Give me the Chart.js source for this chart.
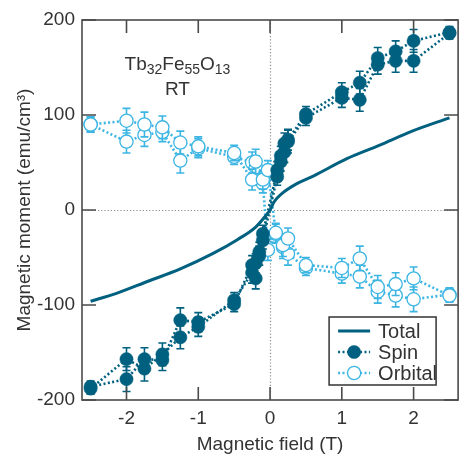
<!DOCTYPE html>
<html>
<head>
<meta charset="utf-8">
<script src="https://cdn.jsdelivr.net/npm/chart.js@4/dist/chart.umd.min.js"></script>
<style>
  html, body { margin: 0; padding: 0; background: #fff; overflow: hidden; }
  #wrap { width: 466px; height: 454px; }
</style>
</head>
<body>
<div id="wrap"><canvas id="chart" width="466" height="454"></canvas></div>
<script>
const $ = (sel) => document.querySelector(sel);

// Total magnetisation curve (emu/cm3 vs T)
const totalField  = [-2.5, -2.15, -1.7, -1.25, -0.8, -0.45, -0.2, -0.06, 0, 0.06, 0.16, 0.38, 0.61, 1.07, 1.52, 1.98, 2.5];
const totalMoment = [-96, -88, -75, -62, -46, -31, -18, -6, 0, 9, 17, 28, 36, 54, 68, 83, 97];

// Spin moment, two sweep branches
const spinField   = [-2.5, -2, -1.75, -1.5, -1.25, -1, -0.5, -0.25, -0.2, -0.15, -0.1, 0.1, 0.15, 0.2, 0.25, 0.5, 1, 1.25, 1.5, 1.75, 2, 2.5];
const spinDown    = [-186, -178, -157, -158, -116, -118, -99, -58, -72, -48, -32, 35, 51, 61, 74, 101, 124, 134, 160, 167, 178, 187];
const spinDownErr = [6, 13, 12, 11, 13, 10, 8, 10, 11, 10, 9, 9, 10, 11, 11, 8, 10, 12, 11, 11, 12, 6];
const spinUp      = [-188, -157, -167, -152, -134, -123, -95, -66, -56, -44, -25, 42, 57, 70, 72, 97, 118, 116, 153, 157, 157, 186];
const spinUpErr   = [6, 12, 13, 12, 12, 10, 8, 11, 10, 10, 9, 9, 10, 11, 12, 8, 10, 12, 10, 12, 12, 6];

// Orbital moment, two sweep branches
const orbField    = [-2.5, -2, -1.75, -1.5, -1.25, -1, -0.5, -0.25, -0.2, -0.1, -0.03, 0.08, 0.18, 0.25, 0.5, 1, 1.25, 1.5, 1.75, 2, 2.5];
const orbDown     = [90, 94, 90, 87, 71, 67, 60, 32, 51, 32, 42, -24, -37, -30, -58, -61, -51, -81, -78, -72, -90];
const orbDownErr  = [8, 13, 13, 12, 12, 10, 8, 11, 13, 10, 10, 10, 12, 11, 8, 10, 13, 12, 12, 12, 7];
const orbUp       = [90, 72, 79, 82, 52, 65, 56, 50, 45, 28, -42, -25, -39, -46, -61, -67, -70, -86, -90, -94, -89];
const orbUpErr    = [8, 12, 12, 10, 13, 10, 8, 11, 12, 10, 11, 10, 12, 12, 8, 10, 12, 12, 12, 13, 7];

const xTicks = [-2, -1, 0, 1, 2];
const yTicks = [-200, -100, 0, 100, 200];

const DARK = '#00607f';
const LIGHT = '#3cb5e3';
const AXIS = '#4a4a4a';
const FONT = '"Liberation Sans", Arial, sans-serif';

const pts = (xs, ys) => xs.map((x, i) => ({ x, y: ys[i] }));

function branch(label, xs, ys, errs, color, filled) {
    return {
        label,
        data: pts(xs, ys),
        errors: errs,
        showLine: true,
        borderColor: color,
        borderWidth: 2.6,
        borderDash: [2, 2.4],
        pointRadius: 6.6,
        pointHoverRadius: 6.6,
        pointBackgroundColor: filled ? color : '#fff',
        pointBorderColor: color,
        pointBorderWidth: filled ? 0.5 : 1.3,
        errColor: color
    };
}

// frame, inward ticks, zero lines, error bars, labels and legend
const decor = {
    id: 'decor',
    beforeDatasetsDraw(chart) {
        const { ctx, chartArea: a, scales: { x, y } } = chart;
        ctx.save();
        ctx.strokeStyle = '#8a8a8a';
        ctx.lineWidth = 1.2;
        ctx.setLineDash([1.2, 2]);
        const y0 = Math.round(y.getPixelForValue(0)) + 0.5;
        const x0 = Math.round(x.getPixelForValue(0)) + 0.5;
        ctx.beginPath();
        ctx.moveTo(a.left, y0); ctx.lineTo(a.right, y0);
        ctx.moveTo(x0, a.top); ctx.lineTo(x0, a.bottom);
        ctx.stroke();
        ctx.restore();
    },
    beforeDatasetDraw(chart, args) {
        const ds = chart.data.datasets[args.index];
        if (!ds.errors) return;
        const { ctx, scales: { x, y } } = chart;
        ctx.save();
        ctx.strokeStyle = ds.errColor;
        ctx.lineWidth = 1.6;
        ds.data.forEach((p, i) => {
            const e = ds.errors[i];
            const px = x.getPixelForValue(p.x);
            const top = y.getPixelForValue(p.y + e);
            const bot = y.getPixelForValue(p.y - e);
            ctx.beginPath();
            ctx.moveTo(px, top); ctx.lineTo(px, bot);
            ctx.moveTo(px - 4, top); ctx.lineTo(px + 4, top);
            ctx.moveTo(px - 4, bot); ctx.lineTo(px + 4, bot);
            ctx.stroke();
        });
        ctx.restore();
    },
    afterDraw(chart) {
        const { ctx, chartArea: a, scales: { x, y } } = chart;
        ctx.save();
        ctx.strokeStyle = AXIS;
        ctx.lineWidth = 1.6;
        ctx.strokeRect(a.left, a.top, a.right - a.left, a.bottom - a.top);
        ctx.beginPath();
        xTicks.forEach(v => {
            const px = x.getPixelForValue(v);
            ctx.moveTo(px, a.bottom); ctx.lineTo(px, a.bottom - 13);
            ctx.moveTo(px, a.top); ctx.lineTo(px, a.top + 13);
        });
        yTicks.forEach(v => {
            const py = y.getPixelForValue(v);
            ctx.moveTo(a.left, py); ctx.lineTo(a.left + 14, py);
            ctx.moveTo(a.right, py); ctx.lineTo(a.right - 14, py);
        });
        ctx.stroke();

        // sample name with subscripts
        ctx.fillStyle = '#333';
        ctx.textBaseline = 'alphabetic';
        const parts = [['Tb', 0], ['32', 1], ['Fe', 0], ['55', 1], ['O', 0], ['13', 1]];
        const big = '19px ' + FONT, small = '14px ' + FONT;
        let w = 0;
        parts.forEach(([t, s]) => { ctx.font = s ? small : big; w += ctx.measureText(t).width; });
        const cx = x.getPixelForValue(-1.29);
        let tx = cx - w / 2;
        const by = y.getPixelForValue(147);
        parts.forEach(([t, s]) => {
            ctx.font = s ? small : big;
            ctx.fillText(t, tx, s ? by + 4 : by);
            tx += ctx.measureText(t).width;
        });
        ctx.font = big;
        ctx.textAlign = 'center';
        ctx.fillText('RT', cx, y.getPixelForValue(121));

        // legend box
        const L = a.right - 129, R = a.right - 22, T = a.bottom - 83, B = a.bottom - 15;
        ctx.fillStyle = '#fff';
        ctx.fillRect(L, T, R - L, B - T);
        ctx.strokeStyle = '#333';
        ctx.lineWidth = 1.5;
        ctx.strokeRect(L, T, R - L, B - T);
        const rows = [
            { label: 'Total', ds: chart.data.datasets[0], line: true },
            { label: 'Spin', ds: chart.data.datasets[1] },
            { label: 'Orbital', ds: chart.data.datasets[3] }
        ];
        rows.forEach((r, i) => {
            const ry = T + 14 + i * 21;
            const x1 = L + 9, x2 = L + 41;
            ctx.save();
            ctx.strokeStyle = r.ds.borderColor;
            ctx.lineWidth = r.line ? 3 : 2.6;
            ctx.setLineDash(r.line ? [] : [2, 2.4]);
            ctx.beginPath();
            ctx.moveTo(x1, ry); ctx.lineTo(x2, ry);
            ctx.stroke();
            ctx.restore();
            if (!r.line) {
                ctx.beginPath();
                ctx.arc((x1 + x2) / 2, ry, 6.6, 0, Math.PI * 2);
                ctx.fillStyle = r.ds.pointBackgroundColor;
                ctx.fill();
                ctx.strokeStyle = r.ds.pointBorderColor;
                ctx.lineWidth = r.ds.pointBorderWidth;
                ctx.stroke();
            }
            ctx.fillStyle = '#333';
            ctx.font = '20px ' + FONT;
            ctx.textAlign = 'left';
            ctx.textBaseline = 'middle';
            ctx.fillText(r.label, L + 49, ry + 1);
        });
        ctx.restore();
    }
};

const chart = new Chart($('#chart').getContext('2d'), {
    type: 'scatter',
    data: {
        datasets: [
            {
                label: 'Total',
                data: pts(totalField, totalMoment),
                showLine: true,
                borderColor: DARK,
                borderWidth: 3,
                pointRadius: 0,
                cubicInterpolationMode: 'monotone'
            },
            branch('Spin', spinField, spinDown, spinDownErr, DARK, true),
            branch('Spin', spinField, spinUp, spinUpErr, DARK, true),
            branch('Orbital', orbField, orbDown, orbDownErr, LIGHT, false),
            branch('Orbital', orbField, orbUp, orbUpErr, LIGHT, false)
        ]
    },
    options: {
        responsive: false,
        animation: false,
        layout: { padding: { top: 20, right: 1, bottom: 0, left: 0 } },
        plugins: { legend: { display: false }, tooltip: { enabled: false } },
        scales: {
            x: {
                type: 'linear',
                min: -2.62,
                max: 2.62,
                afterBuildTicks: s => { s.ticks = xTicks.map(v => ({ value: v })); },
                afterFit: s => { s.height = 54; },
                grid: { display: false, drawTicks: false },
                border: { display: false },
                ticks: { color: '#333', font: { family: FONT, size: 19 }, padding: 7, callback: v => String(v) },
                title: { display: true, text: 'Magnetic field (T)', color: '#333', font: { family: FONT, size: 19 }, padding: { top: 0, bottom: -2 } }
            },
            y: {
                type: 'linear',
                min: -200,
                max: 200,
                afterBuildTicks: s => { s.ticks = yTicks.map(v => ({ value: v })); },
                afterFit: s => { s.width = 82; },
                grid: { display: false, drawTicks: false },
                border: { display: false },
                ticks: { color: '#333', font: { family: FONT, size: 19 }, padding: 7, callback: v => String(v) },
                title: { display: true, text: 'Magnetic moment (emu/cm³)', color: '#333', font: { family: FONT, size: 19 }, padding: { top: 13, bottom: 0 } }
            }
        }
    },
    plugins: [decor]
});
</script>
</body>
</html>
